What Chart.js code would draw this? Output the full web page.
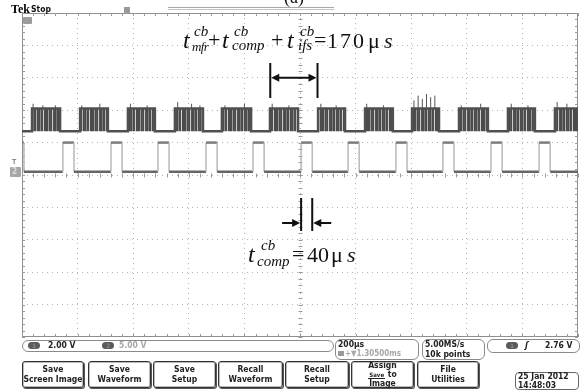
<!DOCTYPE html>
<html>
<head>
<meta charset="utf-8">
<script src="https://cdn.jsdelivr.net/npm/chart.js@4/dist/chart.umd.min.js"></script>
<style>
  html, body { margin: 0; padding: 0; background: #fff; }
  #scope { position: relative; width: 582px; height: 391px; overflow: hidden; background: #fff; }
  #scope canvas { position: absolute; left: 0; top: 0; }
  .eq { position: absolute; font-family: "Liberation Serif", "Times New Roman", serif; line-height: 1; color: #111; white-space: nowrap; }
  .eq.i { font-style: italic; }
  .ui { position: absolute; font-family: "DejaVu Sans Condensed", "DejaVu Sans", sans-serif; font-weight: bold; color: #222; white-space: nowrap; }
  .pill { position: absolute; border: 1px solid #8a8a8a; border-radius: 6px; background: #fff; }
  .chip { position: absolute; width: 12px; height: 7px; border-radius: 4px; background: #5a5a5a; color: #8a8a8a; font: bold 6px "DejaVu Sans", sans-serif; text-align: center; line-height: 7px; }
  .btn { position: absolute; top: 361px; height: 25px; border: 1px solid #333; border-radius: 3px;
         box-shadow: inset 0 0 0 1px #bbb, 1px 1px 0 #555;
         font-family: "DejaVu Sans Condensed", "DejaVu Sans", sans-serif; font-weight: bold; font-size: 8.5px; line-height: 9.5px;
         color: #222; text-align: center; display: flex; flex-direction: column; justify-content: center; }
  .mini { font-size: 6px; border-bottom: 1px solid #222; padding: 0 1px; }
</style>
</head>
<body>
<div id="scope">
  <canvas id="chart" width="582" height="391"></canvas>

  <!-- caption clipped at the top edge and record bar -->
  <div class="eq" style="left:284px; top:-12px; font-size:18px;">(a)</div>
  <div style="position:absolute; left:168px; top:7px; width:166px; height:1px; background:#a8a8a8;"></div>
  <div style="position:absolute; left:168px; top:9px; width:166px; height:1px; background:#c4c4c4;"></div>

  <!-- status header -->
  <div class="ui" style="left:11px; top:2px; font-family:'Liberation Serif',serif; font-size:12px; color:#000;">Tek</div>
  <div class="ui" style="left:31px; top:3.5px; font-size:8.5px; color:#111;">Stop</div>
  <div style="position:absolute; left:124px; top:7px; width:6px; height:7px; background:#9a9a9a;"></div>

  <!-- channel markers -->
  <div style="position:absolute; left:23px; top:17px; width:9px; height:7px; background:#9c9c9c; border-radius:1px;"></div>
  <div class="ui" style="left:12px; top:158px; font-size:7px; color:#8c8c8c;">T</div>
  <div style="position:absolute; left:10px; top:167px; width:11px; height:10px; background:#a6a6a6; border-radius:1px;"></div>
  <div class="ui" style="left:12px; top:167px; font-size:8px; color:#ddd;">2</div>

  <!-- expressions -->
  <div class="eq i" style="left:183px; top:28px;   font-size:24px;">t</div>
  <div class="eq i" style="left:194px; top:24.4px; font-size:15px;">cb</div>
  <div class="eq i" style="left:192px; top:39.5px; font-size:13px; letter-spacing:-0.6px;">mfr</div>
  <div class="eq"   style="left:208px; top:28.5px; font-size:22px;">+</div>
  <div class="eq i" style="left:222px; top:28px;   font-size:24px;">t</div>
  <div class="eq i" style="left:234px; top:24.4px; font-size:15px;">cb</div>
  <div class="eq i" style="left:232px; top:38.4px; font-size:15px;">comp</div>
  <div class="eq"   style="left:271px; top:28.5px; font-size:22px;">+</div>
  <div class="eq i" style="left:287px; top:28px;   font-size:24px;">t</div>
  <div class="eq i" style="left:300px; top:24.4px; font-size:15px;">cb</div>
  <div class="eq i" style="left:298px; top:38.4px; font-size:15px;">ifs</div>
  <div class="eq"   style="left:314px; top:28.5px; font-size:22px;">=</div>
  <div class="eq"   style="left:327px; top:29.6px; font-size:22px; letter-spacing:2px;">170</div>
  <div class="eq"   style="left:368px; top:29.6px; font-size:22px;">μ</div>
  <div class="eq i" style="left:384px; top:29.6px; font-size:22px;">s</div>

  <div class="eq i" style="left:248px; top:241.9px; font-size:24px;">t</div>
  <div class="eq i" style="left:261px; top:238.4px; font-size:15px;">cb</div>
  <div class="eq i" style="left:257px; top:254.4px; font-size:15px;">comp</div>
  <div class="eq"   style="left:292px; top:242.6px; font-size:22px;">=</div>
  <div class="eq"   style="left:307px; top:243.6px; font-size:22px;">40</div>
  <div class="eq"   style="left:331px; top:243.6px; font-size:22px;">μ</div>
  <div class="eq i" style="left:347px; top:243.6px; font-size:22px;">s</div>

  <!-- status row -->
  <div class="pill" style="left:22px; top:340px; width:310px; height:10px;"></div>
  <div class="chip" style="left:28px; top:342px;">1</div>
  <div class="ui" style="left:48px; top:340px; font-size:8.5px;">2.00 V</div>
  <div class="chip" style="left:102px; top:342px;">2</div>
  <div class="ui" style="left:119px; top:340px; font-size:8.5px; color:#a8a8a8;">5.00 V</div>

  <div class="pill" style="left:335px; top:339px; width:82px; height:19px;"></div>
  <div class="ui" style="left:338px; top:339px; font-size:8.5px;">200μs</div>
  <div style="position:absolute; left:338px; top:351px; width:6px; height:5px; background:#9a9a9a;"></div>
  <div class="ui" style="left:345px; top:349px; font-size:8px; color:#a8a8a8;">+▼1.30500ms</div>

  <div class="pill" style="left:422px; top:339px; width:61px; height:19px;"></div>
  <div class="ui" style="left:425px; top:339px; font-size:8.5px;">5.00MS/s</div>
  <div class="ui" style="left:425px; top:349px; font-size:8.5px;">10k points</div>

  <div class="pill" style="left:487px; top:339px; width:91px; height:12px;"></div>
  <div class="chip" style="left:506px; top:342px;">1</div>
  <div class="ui" style="left:525px; top:340px; font-size:9px; font-style:italic;">ʃ</div>
  <div class="ui" style="left:545px; top:340px; font-size:8.5px;">2.76 V</div>

  <!-- soft-key row -->
  <div class="btn" style="left:22px;  width:60px;"><span>Save</span><span>Screen Image</span></div>
  <div class="btn" style="left:88px;  width:61px;"><span>Save</span><span>Waveform</span></div>
  <div class="btn" style="left:153px; width:61px;"><span>Save</span><span>Setup</span></div>
  <div class="btn" style="left:218px; width:63px;"><span>Recall</span><span>Waveform</span></div>
  <div class="btn" style="left:285px; width:62px;"><span>Recall</span><span>Setup</span></div>
  <div class="btn" style="left:351px; width:61px; line-height:8.5px;"><span>Assign</span><span><span class="mini">Save</span> to</span><span>Image</span></div>
  <div class="btn" style="left:417px; width:60px;"><span>File</span><span>Utilities</span></div>
  <div class="pill" style="left:515px; top:372px; width:62px; height:16px; border-color:#666; border-radius:4px;"></div>
  <div class="ui" style="left:518px; top:371px; font-size:8.5px;">25 Jan 2012</div>
  <div class="ui" style="left:518px; top:380px; font-size:8.5px;">14:48:03</div>
</div>

<script>
// Horizontal axis: time in µs (200 µs/div, 10 divisions).
// Vertical axis: screen divisions, centre line at 0.
const timeMin = 0;
const timeMax = 2000;
const timeStep = 200;
const divMin = -5;
const divMax = 5;

// Channel 1: burst activity (start/end in µs) on an idle baseline.
const ch1BurstStart = [36, 209, 381, 550, 719, 892, 1065, 1234, 1403, 1572, 1748, 1917];
const ch1BurstEnd   = [137, 309, 478, 651, 824, 993, 1162, 1334, 1500, 1676, 1845, 2000];
const ch1Idle = 1.35;
const ch1Busy = 2.05;
// Taller glitches poking out of the bursts.
const ch1SpikeTimes = [40, 75, 120, 215, 280, 390, 450, 560, 610, 640, 730, 800, 900, 960, 1075, 1130,
                       1240, 1300, 1410, 1425, 1440, 1455, 1470, 1485, 1580, 1650, 1760, 1820, 1925, 1960];
const ch1SpikeTops  = [2.2, 2.15, 2.15, 2.15, 2.2, 2.2, 2.15, 2.25, 2.2, 2.15, 2.15, 2.2, 2.2, 2.15, 2.2, 2.15,
                       2.2, 2.15, 2.3, 2.45, 2.35, 2.5, 2.4, 2.45, 2.15, 2.2, 2.2, 2.15, 2.25, 2.2];

// Channel 2: short pulses (start in µs, fixed width).
const ch2PulseStart = [-33, 147, 320, 489, 662, 831, 1004, 1173, 1345, 1514, 1687, 1860];
const ch2PulseWidth = 40;
const ch2Low = 0.1;
const ch2High = 1.0;

// Measured spans.
const periodStart = 893;
const periodLength = 170;
const compPulse = 6;   // index into ch2PulseStart

// ---- point lists built from the arrays above ----
const ch1Points = [{x: timeMin, y: ch1Idle}];
ch1BurstStart.forEach((s, i) => {
  const e = ch1BurstEnd[i];
  ch1Points.push({x: s, y: ch1Idle}, {x: s, y: ch1Busy}, {x: e, y: ch1Busy}, {x: e, y: ch1Idle});
});
ch1Points.push({x: timeMax, y: ch1Idle});

const ch1Spikes = [];
ch1SpikeTimes.forEach((t, i) => {
  ch1Spikes.push({x: t, y: ch1Busy}, {x: t, y: ch1SpikeTops[i]}, {x: t, y: null});
});

const ch2Points = [];
ch2PulseStart.forEach(s => {
  const e = s + ch2PulseWidth;
  ch2Points.push({x: s, y: ch2Low}, {x: s, y: ch2High}, {x: e, y: ch2High}, {x: e, y: ch2Low});
});
ch2Points.push({x: timeMax, y: ch2Low});

// Striped fill for the dense burst regions.
function stripePattern(colors) {
  const c = document.createElement('canvas');
  c.width = colors.length; c.height = 1;
  const g = c.getContext('2d');
  colors.forEach((col, i) => { g.fillStyle = col; g.fillRect(i, 0, 1, 1); });
  return g.createPattern(c, 'repeat');
}
const burstFill = stripePattern(['#4b4b4b', '#4b4b4b', '#9c9c9c', '#4b4b4b', '#555555', '#4b4b4b', '#c9c9c9',
  '#555555', '#4b4b4b', '#4b4b4b', '#7a7a7a', '#4b4b4b', '#4b4b4b', '#b3b3b3', '#4b4b4b', '#525252',
  '#4b4b4b', '#8c8c8c', '#4b4b4b', '#505050', '#d0d0d0', '#4b4b4b', '#4b4b4b']);

const isVertical = c => c.p0.parsed.x === c.p1.parsed.x;

// Frame, minor ticks and centre cross-hair of the graticule.
const graticule = {
  id: 'graticule',
  beforeDatasetsDraw(chart) {
    const {ctx, chartArea: a, scales: {x, y}} = chart;
    ctx.save();
    ctx.strokeStyle = '#8e8e8e';
    ctx.lineWidth = 1;
    ctx.strokeRect(a.left + 0.5, a.top + 0.5, a.right - a.left - 1, a.bottom - a.top - 1);
    ctx.strokeStyle = '#9a9a9a';
    ctx.beginPath();
    const cx = Math.round(x.getPixelForValue((timeMin + timeMax) / 2)) + 0.5;
    const cy = Math.round(y.getPixelForValue(0)) + 0.5;
    for (let t = timeMin; t <= timeMax; t += timeStep / 5) {
      const px = Math.round(x.getPixelForValue(t)) + 0.5;
      ctx.moveTo(px, a.top); ctx.lineTo(px, a.top + 3);
      ctx.moveTo(px, a.bottom); ctx.lineTo(px, a.bottom - 3);
      ctx.moveTo(px, cy - 2); ctx.lineTo(px, cy + 2);
    }
    for (let d = divMin; d <= divMax + 1e-9; d += 0.2) {
      const py = Math.round(y.getPixelForValue(d)) + 0.5;
      ctx.moveTo(a.left, py); ctx.lineTo(a.left + 3, py);
      ctx.moveTo(a.right, py); ctx.lineTo(a.right - 3, py);
      ctx.moveTo(cx - 2, py); ctx.lineTo(cx + 2, py);
    }
    ctx.stroke();
    ctx.restore();
  }
};

// Measurement bars and arrows.
function arrowHead(ctx, tipX, tipY, dir) {
  ctx.beginPath();
  ctx.moveTo(tipX, tipY);
  ctx.lineTo(tipX - dir * 8, tipY - 4);
  ctx.lineTo(tipX - dir * 8, tipY + 4);
  ctx.closePath();
  ctx.fill();
}
const spans = {
  id: 'spans',
  afterDatasetsDraw(chart) {
    const {ctx, scales: {x, y}} = chart;
    ctx.save();
    ctx.strokeStyle = '#111';
    ctx.fillStyle = '#111';
    ctx.lineWidth = 2;

    // period between successive bursts
    const p0 = x.getPixelForValue(periodStart);
    const p1 = x.getPixelForValue(periodStart + periodLength);
    const top1 = y.getPixelForValue(3.46), bot1 = y.getPixelForValue(2.38), ay1 = y.getPixelForValue(3.0);
    ctx.beginPath();
    ctx.moveTo(p0, top1); ctx.lineTo(p0, bot1);
    ctx.moveTo(p1, top1); ctx.lineTo(p1, bot1);
    ctx.moveTo(p0 + 6, ay1); ctx.lineTo(p1 - 6, ay1);
    ctx.stroke();
    arrowHead(ctx, p0 + 1, ay1, -1);
    arrowHead(ctx, p1 - 1, ay1, 1);

    // pulse width
    const s = ch2PulseStart[compPulse];
    const q0 = x.getPixelForValue(s);
    const q1 = x.getPixelForValue(s + ch2PulseWidth);
    const top2 = y.getPixelForValue(-0.71), bot2 = y.getPixelForValue(-1.73), ay2 = y.getPixelForValue(-1.48);
    ctx.beginPath();
    ctx.moveTo(q0, top2); ctx.lineTo(q0, bot2);
    ctx.moveTo(q1, top2); ctx.lineTo(q1, bot2);
    ctx.moveTo(q0 - 19, ay2); ctx.lineTo(q0 - 6, ay2);
    ctx.moveTo(q1 + 19, ay2); ctx.lineTo(q1 + 6, ay2);
    ctx.stroke();
    arrowHead(ctx, q0 - 1, ay2, 1);
    arrowHead(ctx, q1 + 1, ay2, -1);
    ctx.restore();
  }
};

const innerOnly = (lo, hi) => c => (c.tick && (c.tick.value <= lo || c.tick.value >= hi)) ? 'rgba(0,0,0,0)' : '#b4b4b4';

new Chart(document.getElementById('chart'), {
  type: 'line',
  data: {
    datasets: [
      {
        label: 'CH1',
        data: ch1Points,
        borderColor: '#505050',
        borderWidth: 2.5,
        backgroundColor: burstFill,
        fill: {value: ch1Idle},
        pointRadius: 0,
        tension: 0,
        order: 2
      },
      {
        label: 'CH1 spikes',
        data: ch1Spikes,
        borderColor: '#555555',
        borderWidth: 1,
        pointRadius: 0,
        spanGaps: false,
        fill: false,
        order: 1
      },
      {
        label: 'CH2',
        data: ch2Points,
        borderColor: '#6a6a6a',
        borderWidth: 2.5,
        pointRadius: 0,
        fill: false,
        tension: 0,
        segment: {
          borderColor: c => isVertical(c) ? '#b9b9b9' : (c.p0.parsed.y > ch2Low ? '#7c7c7c' : '#666666'),
          borderWidth: c => isVertical(c) ? 1.5 : 2.5
        },
        order: 0
      }
    ]
  },
  options: {
    responsive: false,
    animation: false,
    devicePixelRatio: 1,
    layout: { padding: { left: 22, right: 4, top: 13, bottom: 54 } },
    plugins: { legend: { display: false }, tooltip: { enabled: false } },
    scales: {
      x: {
        type: 'linear',
        min: timeMin,
        max: timeMax,
        ticks: { display: false, stepSize: timeStep },
        grid: { color: innerOnly(timeMin, timeMax), lineWidth: 1, drawTicks: false },
        border: { display: false, dash: [1, 4] }
      },
      y: {
        type: 'linear',
        min: divMin,
        max: divMax,
        ticks: { display: false, stepSize: 1 },
        grid: { color: innerOnly(divMin, divMax), lineWidth: 1, drawTicks: false },
        border: { display: false, dash: [1, 4] }
      }
    }
  },
  plugins: [graticule, spans]
});
</script>
</body>
</html>
